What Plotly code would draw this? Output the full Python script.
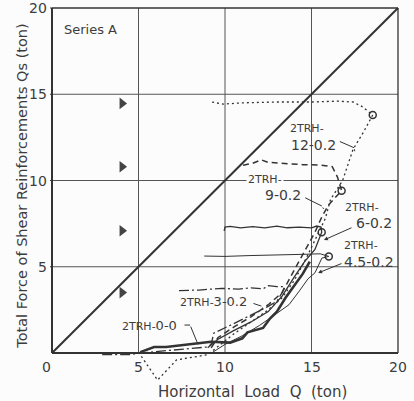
import plotly.graph_objects as go

# ---------------- data ----------------
diag_x = [0, 20]
diag_y = [0, 20]

# 2TRH-0-0 (thick solid)
s00_x = [5.1, 5.9, 6.6, 7.4, 8.4, 9.2, 10.3, 11.0, 11.3, 12.2, 12.6, 13.0, 13.5, 14.0, 14.5, 14.9]
s00_y = [0.05, 0.35, 0.35, 0.45, 0.55, 0.65, 0.6, 0.85, 1.2, 1.45, 2.0, 2.4, 3.2, 3.9, 4.6, 5.3]

# 2TRH-3-0.2 (dash-dot)
s3_x = [2.9, 4.5, 5.1, 7.0, 9.0, 9.2, 9.35, 10.5, 11.5, 12.5, 13.0, 13.3, 13.45, 13.0, 12.5, 12.2, 11.5, 10.8, 9.8, 8.5, 7.3]
s3_y = [-0.1, -0.1, 0.0, 0.15, 0.35, 0.5, 1.15, 1.7, 2.2, 2.7, 3.0, 3.5, 3.85, 3.85, 3.9, 3.72, 3.78, 3.7, 3.75, 3.65, 3.62]

# 2TRH-4.5-0.2 (thin solid)
s45_x = [9.3, 10.0, 11.0, 12.0, 13.0, 13.7, 14.3, 14.8, 15.2, 15.4, 15.6, 16.0, 15.5, 14.5, 13.0, 11.5, 10.0, 8.8]
s45_y = [0.05, 0.5, 1.0, 1.6, 2.3, 2.8, 3.6, 4.3, 4.65, 5.1, 5.5, 5.6, 5.75, 5.72, 5.7, 5.65, 5.6, 5.62]

# 2TRH-6-0.2 (solid)
s6_x = [9.0, 9.6, 10.5, 11.5, 12.5, 13.3, 14.0, 14.6, 15.2, 15.45, 15.59, 15.55, 15.3, 15.0, 14.3, 13.6, 13.0, 12.3, 11.6, 10.9, 10.3, 10.0, 9.95]
s6_y = [0.3, 0.8, 1.3, 1.8, 2.4, 3.3, 4.4, 5.3, 6.0, 6.6, 7.0, 7.3, 7.36, 7.25, 7.3, 7.26, 7.36, 7.25, 7.33, 7.25, 7.34, 7.3, 7.08]

# 2TRH-9-0.2 (dashed)
s9_x = [9.2, 9.6, 10.5, 11.5, 12.5, 13.3, 14.0, 14.6, 15.2, 15.6, 16.0, 16.74, 16.5, 16.2, 15.5, 14.5, 13.5, 12.5, 12.1, 11.6, 10.9]
s9_y = [0.3, 0.9, 1.5, 2.1, 2.8, 3.5, 4.8, 5.9, 7.0, 7.9, 8.6, 9.41, 10.2, 10.8, 10.9, 10.92, 11.0, 11.05, 11.2, 11.0, 10.85]

# 2TRH-12-0.2 (dotted)
s12_x = [5.0, 6.1, 7.2, 9.0, 9.5, 10.5, 11.5, 12.5, 13.3, 14.0, 14.7, 15.3, 15.8, 16.1, 16.8, 17.4, 18.0, 18.54, 17.9, 17.4, 16.5, 15.0, 13.0, 11.0, 9.9, 9.5, 9.13]
s12_y = [0.05, -1.57, -0.4, -0.1, 0.3, 1.1, 1.8, 2.5, 3.2, 4.2, 5.5, 6.8, 7.8, 8.9, 10.0, 11.8, 12.8, 13.8, 14.3, 14.55, 14.6, 14.55, 14.55, 14.5, 14.43, 14.5, 14.57]

# open circles (peaks)
peak_x = [16.0, 15.59, 16.74, 18.54]
peak_y = [5.6, 7.0, 9.41, 13.8]

# filled triangles
tri_x = [4.05, 4.05, 4.05, 4.05]
tri_y = [14.47, 10.8, 7.09, 3.5]

x_ticks = [0, 5, 10, 15, 20]
y_ticks = [5, 10, 15, 20]
grid_vals = [5, 10, 15]

INK = "#333333"
TXT = "#3c3c3c"
BG = "#fcfcfc"
FONT = "DejaVu Sans"

W, H = 414, 401
ML, MR, MT, MB = 50, 12, 4, 11
XR = [-0.1156, 20.231]
YR = [-2.145, 20.232]


def px(xd):
    """data x -> paper x"""
    return (xd - XR[0]) / (XR[1] - XR[0])


def py(yd):
    """data y -> paper y"""
    return (yd - YR[0]) / (YR[1] - YR[0])


fig = go.Figure()

fig.add_trace(go.Scatter(x=diag_x, y=diag_y, mode="lines", line=dict(color=INK, width=2)))
fig.add_trace(go.Scatter(x=s00_x, y=s00_y, mode="lines", line=dict(color=INK, width=2.6)))
fig.add_trace(go.Scatter(x=s3_x, y=s3_y, mode="lines", line=dict(color=INK, width=1.3, dash="10px,3px,2px,3px")))
fig.add_trace(go.Scatter(x=s45_x, y=s45_y, mode="lines", line=dict(color=INK, width=1)))
fig.add_trace(go.Scatter(x=s6_x, y=s6_y, mode="lines", line=dict(color=INK, width=1.3)))
fig.add_trace(go.Scatter(x=s9_x, y=s9_y, mode="lines", line=dict(color=INK, width=1.5, dash="6px,4px")))
fig.add_trace(go.Scatter(x=s12_x, y=s12_y, mode="lines", line=dict(color=INK, width=1.3, dash="2px,3px")))
fig.add_trace(go.Scatter(x=peak_x, y=peak_y, mode="markers",
                         marker=dict(symbol="circle-open", size=7, color=INK, line=dict(width=1.5))))
fig.add_trace(go.Scatter(x=tri_x, y=tri_y, mode="markers",
                         marker=dict(symbol="triangle-right", size=10, color="#444444")))

shapes = []
shapes.append(dict(type="line", x0=0, x1=0, y0=0, y1=20, line=dict(color=INK, width=2)))
shapes.append(dict(type="line", x0=0, x1=20, y0=0, y1=0, line=dict(color=INK, width=2.2)))
shapes.append(dict(type="line", x0=0, x1=20, y0=20, y1=20, line=dict(color=INK, width=1.3)))
shapes.append(dict(type="line", x0=20, x1=20, y0=0, y1=20, line=dict(color=INK, width=1.3)))
for g in grid_vals:
    shapes.append(dict(type="line", x0=g, x1=g, y0=0, y1=20, line=dict(color="#555555", width=1), layer="below"))
    shapes.append(dict(type="line", x0=0, x1=20, y0=g, y1=g, line=dict(color="#555555", width=1), layer="below"))
for t in y_ticks:
    shapes.append(dict(type="line", x0=-0.3, x1=0, y0=t, y1=t, line=dict(color=INK, width=1.2)))

ann = []
for t in x_ticks:
    ann.append(dict(xref="paper", yref="paper", x=px(t if t != 0 else -0.3), y=py(-0.8), text=str(t),
                    showarrow=False, font=dict(family=FONT, size=14, color=TXT),
                    xanchor="center", yanchor="middle"))
for t in y_ticks:
    ann.append(dict(xref="paper", yref="paper", x=px(-0.15), y=py(t), text=str(t), showarrow=False,
                    font=dict(family=FONT, size=14, color=TXT), xanchor="right", yanchor="middle"))

ann.append(dict(xref="paper", yref="paper", x=px(11.6), y=py(-2.26), text="Horizontal  Load  Q  (ton)",
                showarrow=False, font=dict(family=FONT, size=15, color=TXT),
                xanchor="center", yanchor="middle"))
ann.append(dict(xref="paper", yref="paper", x=px(-1.75), y=py(9.68),
                text="Total Force of Shear Reinforcements Qs (ton)", showarrow=False,
                textangle=-90, font=dict(family=FONT, size=14.5, color=TXT), xanchor="center", yanchor="middle"))
ann.append(dict(x=0.58, y=18.78, text="Series A", showarrow=False,
                font=dict(family=FONT, size=13, color=TXT), xanchor="left", yanchor="middle"))

small = "<span style='font-size:11px'>2TRH-</span>"
lab = dict(showarrow=False, xanchor="center", yanchor="middle")
ann.append(dict(x=14.74, y=12.99, text="2TRH-", font=dict(family=FONT, size=11, color=TXT), **lab))
ann.append(dict(x=15.14, y=12.06, text="12-0.2", font=dict(family=FONT, size=14, color=TXT), **lab))
ann.append(dict(x=12.31, y=10.03, text="2TRH-", font=dict(family=FONT, size=11, color=TXT),
                bgcolor=BG, borderpad=1, **lab))
ann.append(dict(x=13.35, y=9.16, text="9-0.2", font=dict(family=FONT, size=14, color=TXT), **lab))
ann.append(dict(x=17.92, y=8.41, text="2TRH-", font=dict(family=FONT, size=11, color=TXT), **lab))
ann.append(dict(x=18.6, y=7.54, text="6-0.2", font=dict(family=FONT, size=14, color=TXT), **lab))
ann.append(dict(x=17.86, y=6.26, text="2TRH-", font=dict(family=FONT, size=11, color=TXT), **lab))
ann.append(dict(x=18.32, y=5.28, text="4.5-0.2", font=dict(family=FONT, size=14, color=TXT), **lab))
ann.append(dict(x=9.36, y=2.96, text=small + "3-0.2", font=dict(family=FONT, size=13, color=TXT), **lab))
ann.append(dict(x=5.66, y=1.62, text=small + "0-0", font=dict(family=FONT, size=13, color=TXT), **lab))


def leader(x0, y0, x1, y1, head=0):
    return dict(x=x1, y=y1, ax=x0, ay=y0, axref="x", ayref="y", xref="x", yref="y",
                text="", showarrow=True, arrowhead=head, arrowsize=0.8, arrowwidth=1, arrowcolor=INK)


ann.append(leader(16.55, 12.3, 17.46, 11.9))
ann.append(leader(17.46, 11.9, 17.5, 11.7))
ann.append(leader(14.55, 9.04, 15.6, 8.52))
ann.append(leader(15.6, 8.52, 15.7, 8.35))
ann.append(leader(17.4, 7.3, 15.72, 6.55, head=2))
ann.append(leader(16.82, 5.22, 15.38, 4.64, head=2))
ann.append(leader(11.56, 2.9, 12.1, 2.72))
ann.append(leader(12.1, 2.72, 12.2, 2.6))
ann.append(leader(7.57, 1.62, 7.98, 1.62))
ann.append(leader(7.98, 1.62, 8.44, 0.5))

fig.update_layout(
    width=W, height=H,
    margin=dict(l=ML, r=MR, t=MT, b=MB),
    plot_bgcolor=BG, paper_bgcolor=BG,
    showlegend=False,
    xaxis=dict(range=XR, visible=False),
    yaxis=dict(range=YR, visible=False),
    shapes=shapes,
    annotations=ann,
)

fig.write_html("out.html")
